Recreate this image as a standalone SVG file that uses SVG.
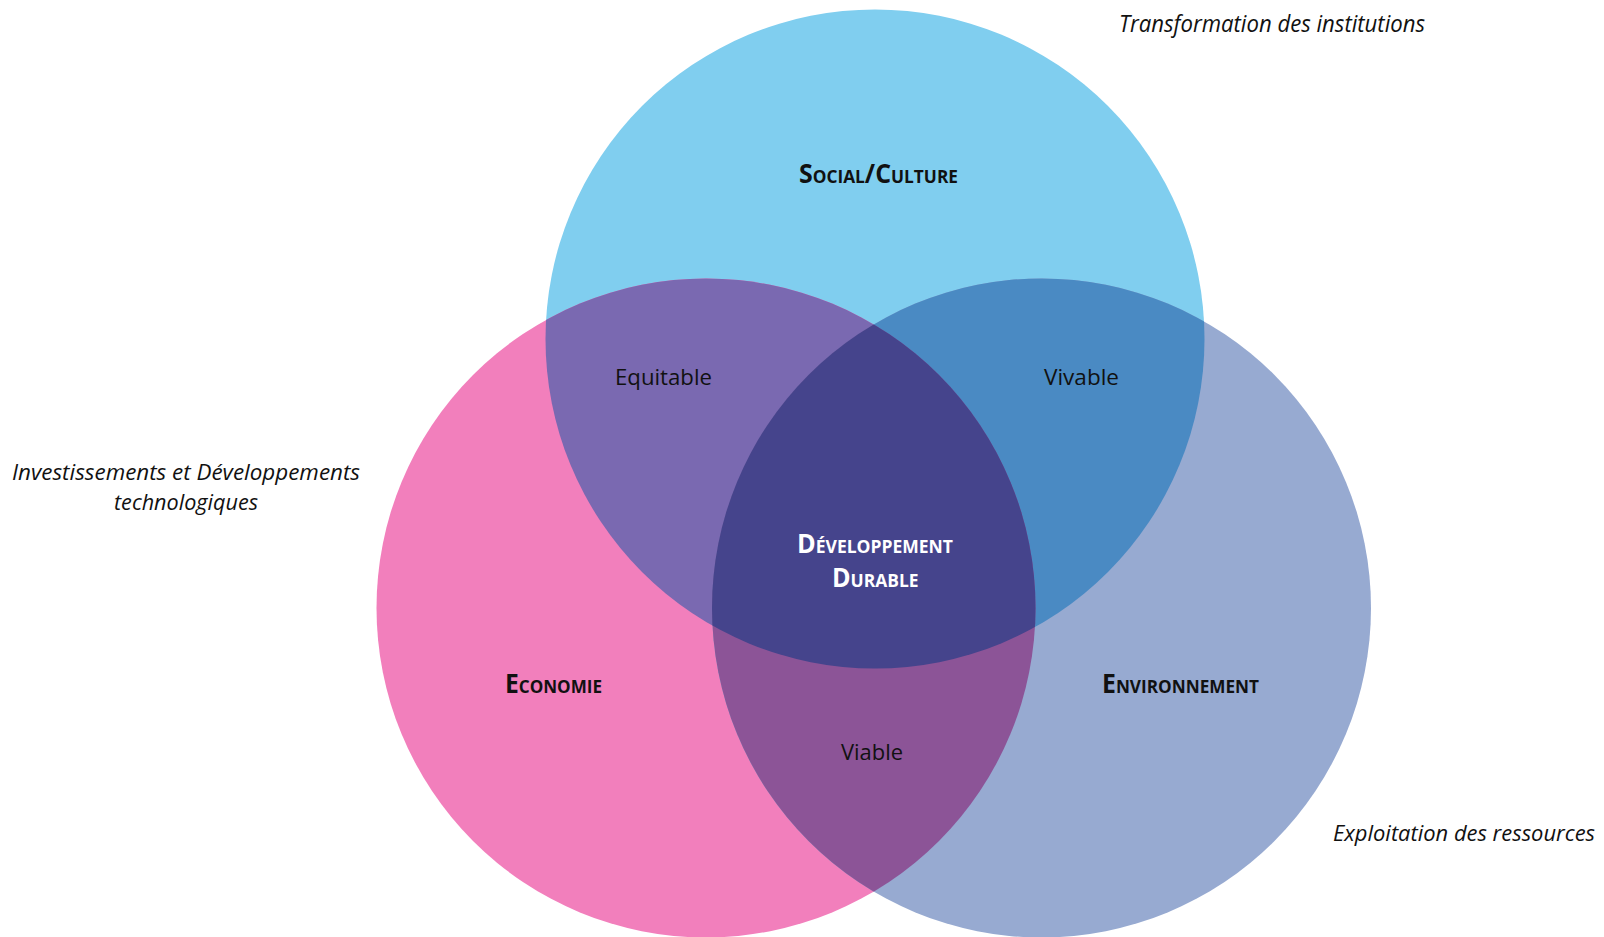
<svg xmlns="http://www.w3.org/2000/svg" width="1604" height="937" viewBox="0 0 1604 937">
  <style>
    .lbl { font-family: "Open Sans", "Liberation Sans", sans-serif; fill: #111; }
    .reg { font-size: 22px; }
    .cap { font-size: 26px; font-weight: bold; font-variant: small-caps; }
    .it { font-size: 24px; font-style: italic; }
    .it2 { font-size: 22px; font-style: italic; }
    .white { fill: #ffffff; }
  </style>
  <defs>
    <clipPath id="clipTop"><circle cx="875" cy="339" r="329.5"/></clipPath>
    <clipPath id="clipLeft"><circle cx="706" cy="608" r="329.5"/></clipPath>
  </defs>
  <rect width="1604" height="937" fill="#ffffff"/>
  <g id="social">
    <circle cx="875" cy="339" r="329.5" fill="#80CEEF"/>
  </g>
  <g id="economie">
    <circle cx="706" cy="608" r="329.5" fill="#F27FBC"/>
  </g>
  <g id="environnement">
    <circle cx="1041.5" cy="608" r="329.5" fill="#97AAD1"/>
  </g>
  <g id="equitable">
    <circle cx="706" cy="608" r="329.5" fill="#7A69B1" clip-path="url(#clipTop)"/>
  </g>
  <g id="vivable">
    <circle cx="1041.5" cy="608" r="329.5" fill="#4A8AC3" clip-path="url(#clipTop)"/>
  </g>
  <g id="viable">
    <circle cx="1041.5" cy="608" r="329.5" fill="#8C5497" clip-path="url(#clipLeft)"/>
  </g>
  <g id="durable">
    <g clip-path="url(#clipTop)">
      <circle cx="1041.5" cy="608" r="329.5" fill="#45448C" clip-path="url(#clipLeft)"/>
    </g>
  </g>
  <g id="labels">
    <text class="lbl cap" x="799" y="183" textLength="159" lengthAdjust="spacingAndGlyphs">Social/Culture</text>
    <text class="lbl cap white" x="797" y="553" textLength="156" lengthAdjust="spacingAndGlyphs">Développement</text>
    <text class="lbl cap white" x="832" y="587" textLength="86.5" lengthAdjust="spacingAndGlyphs">Durable</text>
    <text class="lbl cap" x="505" y="693" textLength="97" lengthAdjust="spacingAndGlyphs">Economie</text>
    <text class="lbl cap" x="1102" y="693" textLength="157" lengthAdjust="spacingAndGlyphs">Environnement</text>
    <text class="lbl reg" x="615" y="385" textLength="97" lengthAdjust="spacingAndGlyphs">Equitable</text>
    <text class="lbl reg" x="1044" y="385" textLength="75" lengthAdjust="spacingAndGlyphs">Vivable</text>
    <text class="lbl reg" x="841" y="760" textLength="62" lengthAdjust="spacingAndGlyphs">Viable</text>
    <text class="lbl it" x="1119" y="32" textLength="306" lengthAdjust="spacingAndGlyphs">Transformation des institutions</text>
    <text class="lbl it2" x="12" y="480" textLength="348" lengthAdjust="spacingAndGlyphs">Investissements et Développements</text>
    <text class="lbl it2" x="114" y="510" textLength="144" lengthAdjust="spacingAndGlyphs">technologiques</text>
    <text class="lbl it2" x="1333" y="841" textLength="262" lengthAdjust="spacingAndGlyphs">Exploitation des ressources</text>
  </g>
</svg>
